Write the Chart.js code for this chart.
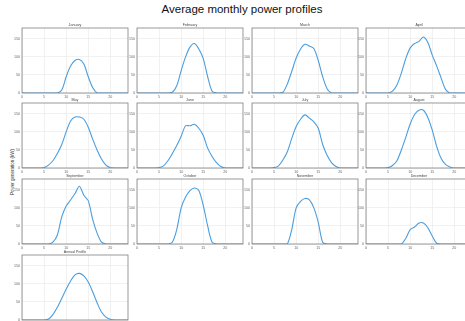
<!DOCTYPE html>
<html><head><meta charset="utf-8">
<script src="https://cdn.jsdelivr.net/npm/chart.js@4/dist/chart.umd.min.js"></script>
<style>
html,body{margin:0;padding:0;background:#fff;overflow:hidden;width:465px;height:321px;position:relative}
#title{position:absolute;left:142px;width:200px;top:3px;text-align:center;font:11.5px "Liberation Sans",Arial,sans-serif;color:#111;white-space:nowrap}
#ylab{position:absolute;left:12px;top:172px;transform:translate(-50%,-50%) rotate(-90deg);font:4.5px "Liberation Sans",Arial,sans-serif;color:#333;white-space:nowrap}
canvas{position:absolute}
</style></head><body>
<div id="title">Average monthly power profiles</div>
<div id="ylab">Power generation (kW)</div>
<script>
const hours = [0,1,2,3,4,5,6,7,8,9,10,11,12,13,14,15,16,17,18,19,20,21,22,23,24];
const panelTitles = ["January","February","March","April","May","June","July","August","September","October","November","December","Annual Profile"];
const xTicks = [0,5,10,15,20];
const yTicks = [0,50,100,150];
const january   = [0,0,0,0,0,0,0,0,0,8,45,75,90,93,80,45,15,0,0,0,0,0,0,0,0];
const february  = [0,0,0,0,0,0,0,0,2,20,62,100,127,137,122,95,45,5,0,0,0,0,0,0,0];
const march     = [0,0,0,0,0,0,0,2,25,60,97,122,135,130,123,90,45,12,0,0,0,0,0,0,0];
const april     = [0,0,0,0,0,0,5,22,55,95,125,137,143,155,140,105,75,42,10,0,0,0,0,0,0];
const may       = [0,0,0,0,0,1,8,20,40,65,100,130,141,141,135,113,80,50,25,8,1,0,0,0,0];
const june      = [0,0,0,0,0,1,6,20,40,62,88,117,117,121,110,90,55,32,15,4,0,0,0,0,0];
const july      = [0,0,0,0,0,1,6,22,45,82,115,135,147,138,128,110,65,35,15,4,0,0,0,0,0];
const august    = [0,0,0,0,0,1,7,20,50,85,122,148,160,160,140,105,60,27,10,3,0,0,0,0,0];
const september = [0,0,0,0,0,0,0,5,25,75,105,122,140,160,135,120,68,30,5,0,0,0,0,0,0];
const october   = [0,0,0,0,0,0,0,0,5,40,100,130,148,155,148,107,50,5,0,0,0,0,0,0,0];
const november  = [0,0,0,0,0,0,0,0,0,40,100,118,126,122,100,60,5,0,0,0,0,0,0,0,0];
const december  = [0,0,0,0,0,0,0,0,0,15,40,47,58,58,45,22,2,0,0,0,0,0,0,0,0];
const annual    = [0,0,0,0,0,0,3,15,35,60,85,108,125,129,122,105,78,48,22,8,2,0,0,0,0];
const series = [january,february,march,april,may,june,july,august,september,october,november,december,annual];

const colLeft = [22,137,252,366];
const rowTop = [28,103,179,255];
const PW = 106, PH = 65, PADL = 16, PADT = 9, PADB = 7, PADR = 2;

const boxPlugin = {
  id:'box',
  afterDraw(chart){
    const a = chart.chartArea, ctx = chart.ctx;
    ctx.save();
    ctx.strokeStyle = '#808080'; ctx.lineWidth = 0.8;
    ctx.strokeRect(a.left, a.top, a.right-a.left, a.bottom-a.top);
    ctx.fillStyle = '#444';
    ctx.font = '3.6px "Liberation Sans", Arial, sans-serif';
    ctx.textAlign = 'center'; ctx.textBaseline = 'bottom';
    ctx.fillText(chart.options.plugins.box.text, (a.left+a.right)/2, a.top-1.5);
    ctx.restore();
  }
};

series.forEach((vals, i) => {
  const c = document.createElement('canvas');
  const w = PW + PADL + PADR, h = PH + PADT + PADB;
  c.width = w; c.height = h;
  c.style.width = w+'px'; c.style.height = h+'px';
  c.style.left = (colLeft[i%4]-PADL)+'px';
  c.style.top = (rowTop[Math.floor(i/4)]-PADT)+'px';
  document.body.appendChild(c);
  new Chart(c, {
    type:'line',
    data:{ datasets:[{ data: hours.map((x,k)=>({x:x,y:vals[k]})), borderColor:'#4a9ee0', borderWidth:1.1, pointRadius:0, tension:0.3, fill:false }]},
    options:{
      responsive:false, animation:false, devicePixelRatio:1,
      layout:{ padding:{ top:PADT, right:PADR, left:0, bottom:0 } },
      plugins:{ legend:{display:false}, tooltip:{enabled:false}, box:{ text: panelTitles[i] } },
      scales:{
        x:{ type:'linear', min:0, max:24,
            afterBuildTicks(s){ s.ticks = xTicks.map(v=>({value:v})); },
            afterFit(s){ s.height = PADB; },
            grid:{ color:'#e8e8e8', lineWidth:0.6, drawTicks:false },
            border:{ display:false },
            ticks:{ font:{ size:3.6, family:'Liberation Sans' }, color:'#666', padding:1.5, maxRotation:0, autoSkip:false } },
        y:{ min:0, max:180,
            afterBuildTicks(s){ s.ticks = yTicks.map(v=>({value:v})); },
            afterFit(s){ s.width = PADL; },
            grid:{ color:'#e8e8e8', lineWidth:0.6, drawTicks:false },
            border:{ display:false },
            ticks:{ font:{ size:3.6, family:'Liberation Sans' }, color:'#666', padding:2, autoSkip:false } }
      }
    },
    plugins:[boxPlugin]
  });
});
</script>
</body></html>
